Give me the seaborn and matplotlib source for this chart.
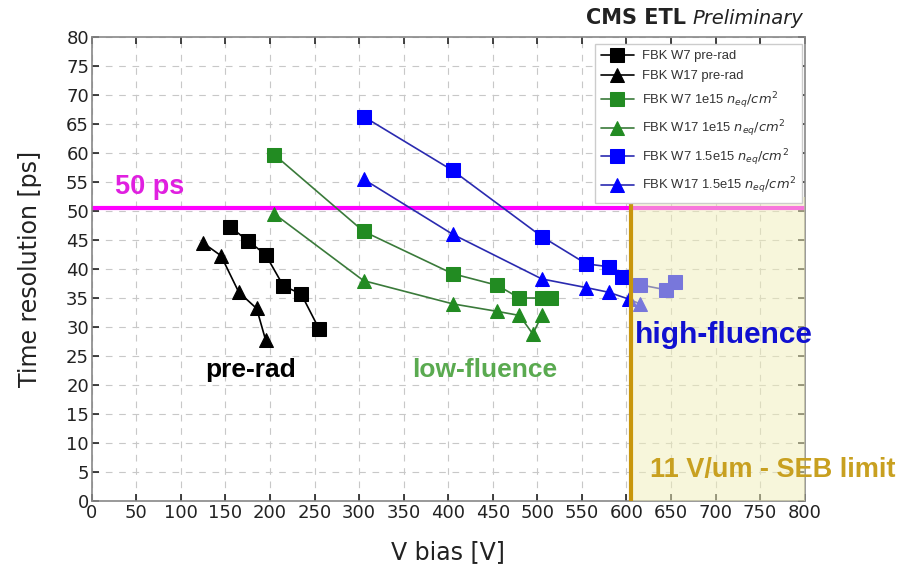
import numpy as np
import pandas as pd
import matplotlib
matplotlib.use("Agg")
import matplotlib.pyplot as plt
import seaborn as sns
from matplotlib.patches import Rectangle

# ---- data ----
w7_pre_v = [155, 175, 195, 215, 235, 255]
w7_pre_t = [47.3, 44.9, 42.5, 37.1, 35.7, 29.7]
w17_pre_v = [125, 145, 165, 185, 195]
w17_pre_t = [44.5, 42.3, 36.0, 33.2, 27.8]
w7_1e15_v = [205, 305, 405, 455, 480, 505, 515]
w7_1e15_t = [59.7, 46.5, 39.2, 37.2, 35.0, 35.0, 35.0]
w17_1e15_v = [205, 305, 405, 455, 480, 495, 505]
w17_1e15_t = [49.5, 38.0, 34.0, 32.7, 32.0, 28.8, 32.0]
w7_15e15_v = [305, 405, 505, 555, 580, 595, 615, 645, 655]
w7_15e15_t = [66.3, 57.0, 45.6, 40.9, 40.4, 38.7, 37.3, 36.4, 37.7]
w17_15e15_v = [305, 405, 505, 555, 580, 603, 615]
w17_15e15_t = [55.5, 46.0, 38.3, 36.8, 36.0, 34.8, 34.0]

labels = ["FBK W7 pre-rad", "FBK W17 pre-rad",
          r"FBK W7 1e15 $n_{eq}/cm^2$", r"FBK W17 1e15 $n_{eq}/cm^2$",
          r"FBK W7 1.5e15 $n_{eq}/cm^2$", r"FBK W17 1.5e15 $n_{eq}/cm^2$"]
limit_t = 50.5
seb_v = 605
seb_top = 52.5

series = [
    (w7_pre_v, w7_pre_t, "black", "s"),
    (w17_pre_v, w17_pre_t, "black", "^"),
    (w7_1e15_v, w7_1e15_t, "#228b22", "s"),
    (w17_1e15_v, w17_1e15_t, "#228b22", "^"),
    (w7_15e15_v, w7_15e15_t, "#0000ff", "s"),
    (w17_15e15_v, w17_15e15_t, "#0000ff", "^"),
]

sns.set_theme(style="ticks")
plt.rcParams['font.family'] = ['DejaVu Sans']

fig = plt.figure(figsize=(9, 5.71), dpi=100)
ax = fig.add_axes([0.102, 0.1226, 0.792, 0.8124])

line_colors = ["black", "black", "#3a7a3a", "#3a7a3a", "#2a2ab0", "#2a2ab0"]
for (v, t, c, m), lab, lc in zip(series, labels, line_colors):
    df = pd.DataFrame({"V": v, "T": t})
    sns.lineplot(data=df, x="V", y="T", ax=ax, color=lc, linewidth=1.2,
                 marker=m, markersize=10, markerfacecolor=c, markeredgecolor=c,
                 label=lab, zorder=3)

ax.axhline(limit_t, color="#ff00ff", linewidth=3, zorder=2)
ax.add_patch(Rectangle((seb_v, 0), 800 - seb_v, seb_top, facecolor="#f0eeb8",
                       alpha=0.5, edgecolor="none", zorder=4))
ax.plot([seb_v, seb_v], [0, seb_top], color="#c8960c", linewidth=3, zorder=5)

ax.set_xlim(0, 800)
ax.set_ylim(0, 80)
ax.set_xticks(np.arange(0, 801, 50))
ax.set_yticks(np.arange(0, 81, 5))
ax.grid(True, linestyle=(0, (6, 6)), color="#c8c8c8", linewidth=0.8)
ax.tick_params(direction="in", top=True, right=True, length=5, width=1.2,
               labelsize=13, colors="#222222", pad=2)
for s in ax.spines.values():
    s.set_color("#888888")
    s.set_linewidth(1.2)

ax.set_xlabel("V bias [V]", fontsize=17, color="#222222", labelpad=13)
ax.set_ylabel("Time resolution [ps]", fontsize=17, color="#222222", labelpad=17)

leg = ax.legend(loc="upper right", frameon=True, handlelength=2.5,
                handletextpad=0.6, borderpad=0.5, labelspacing=0.6,
                bbox_to_anchor=(1.006, 1.0), framealpha=1.0,
                edgecolor="#cccccc", fancybox=False,
                prop={"family": ["Liberation Sans", "DejaVu Sans"], "size": 9.4})
leg.set_zorder(7)
for txt in leg.get_texts():
    txt.set_color("#333333")

bold = dict(fontweight="bold", family=["Liberation Sans", "DejaVu Sans"], zorder=8)
ax.text(26, 54.2, "50 ps", color="#e020e0", fontsize=19.5, va="center", **bold)
ax.text(127, 22.6, "pre-rad", color="black", fontsize=19, va="center", **bold)
ax.text(360, 22.6, "low-fluence", color="#5aaa50", fontsize=19, va="center", **bold)
ax.text(609, 28.7, "high-fluence", color="#1010d0", fontsize=21.5, va="center", **bold)
ax.text(626, 5.4, "11 V/um - SEB limit", color="#c8a020", fontsize=19.5,
        va="center", clip_on=False, **bold)

fig.text(0.892, 0.968, "Preliminary", ha="right", va="center", fontsize=14,
         style="italic", color="#222222")
fig.text(0.762, 0.968, "CMS ETL", ha="right", va="center", fontsize=15,
         fontweight="bold", color="#222222")

fig.savefig("out.png", dpi=100)
